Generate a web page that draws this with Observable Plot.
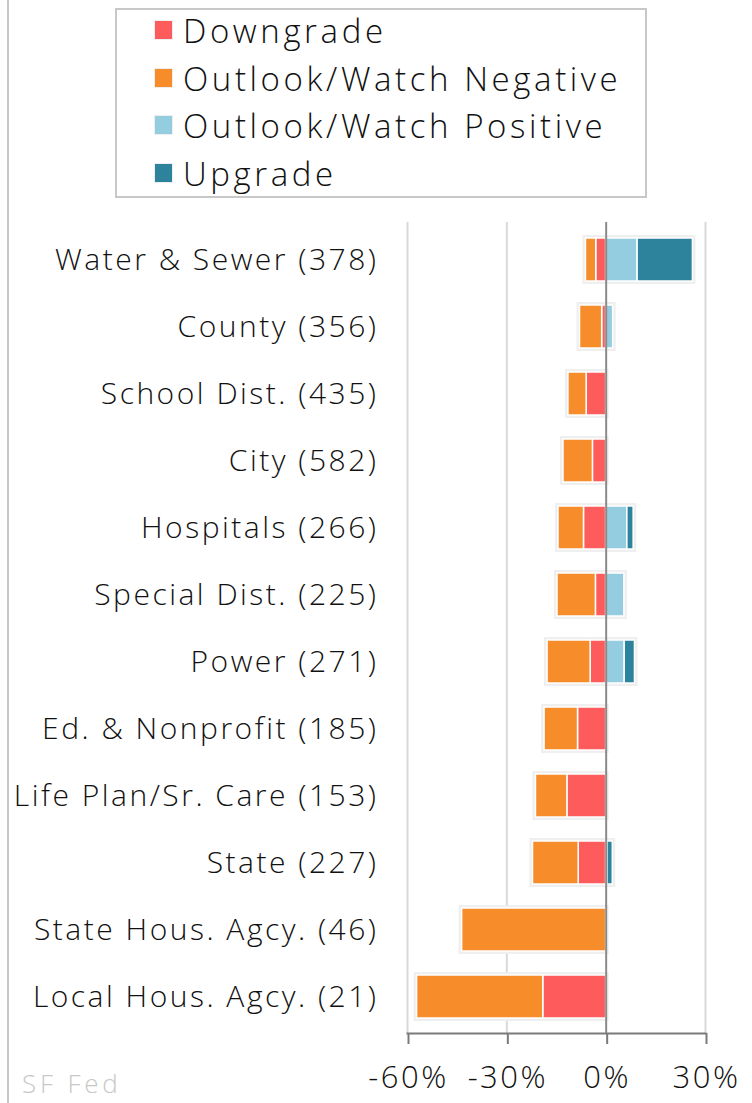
<!DOCTYPE html>
<html>
<head>
<meta charset="utf-8">
<script src="https://cdn.jsdelivr.net/npm/d3@7"></script>
<script src="https://cdn.jsdelivr.net/npm/@observablehq/plot@0.6"></script>
<style>
  html, body { margin: 0; padding: 0; background: #fff; }
  #wrap { position: relative; width: 752px; height: 1103px; overflow: hidden; font-family: "Open Sans", sans-serif; font-weight: 300; }
  #leftline { position: absolute; left: 7px; top: 0; width: 2px; height: 1103px; background: #c8c8c8; }
  #legend { position: relative; height: 205px; }
  #legbox { position: absolute; left: 115px; top: 8px; width: 528px; height: 186px; border: 2px solid #c8c8c8; }
  .item { position: absolute; left: 38px; height: 40px; display: flex; align-items: center; font-size: 33px; letter-spacing: 3.6px; color: #111; white-space: nowrap; }
  .sw { width: 17px; height: 18px; margin-right: 11px; outline: 1.5px solid #eee; flex: none; }
  #caption { position: absolute; left: 22px; top: 1070px; font-size: 26px; line-height: 26px; letter-spacing: 3.8px; color: #c8c8c8; }
  #chart svg text { font-weight: 300; letter-spacing: 2.5px; }
</style>
</head>
<body>
<div id="wrap">
  <div id="leftline"></div>
  <div id="legend"><div id="legbox"></div></div>
  <div id="chart"></div>
  <div id="caption">SF Fed</div>
</div>
<script>
const categories = ["Water & Sewer (378)", "County (356)", "School Dist. (435)", "City (582)", "Hospitals (266)", "Special Dist. (225)", "Power (271)", "Ed. & Nonprofit (185)", "Life Plan/Sr. Care (153)", "State (227)", "State Hous. Agcy. (46)", "Local Hous. Agcy. (21)"];
const seriesNames = ["Downgrade", "Outlook/Watch Negative", "Outlook/Watch Positive", "Upgrade"];
const seriesColors = ["#fe5c5c", "#f78d2a", "#94cddf", "#2c839b"];
const downgrade = [3.0, 1.2, 5.9, 4.0, 6.7, 3.1, 4.7, 8.5, 11.7, 8.3, 0, 19.0];
const watchNegative = [3.1, 6.7, 5.5, 8.9, 7.7, 11.6, 13.0, 10.1, 9.5, 13.8, 43.5, 38.1];
const watchPositive = [9.5, 2.1, 0, 0, 6.4, 5.5, 5.6, 0, 0, 0.4, 0, 0];
const upgrade = [16.7, 0, 0, 0, 1.9, 0, 3.1, 0, 0, 1.6, 0, 0];
const xTicks = [-60, -30, 0, 30];

// legend
const box = document.getElementById("legbox");
const itemTops = [0, 48, 95, 143];
seriesNames.forEach((s, i) => {
  const d = document.createElement("div");
  d.className = "item";
  d.style.top = itemTops[i] + "px";
  const sw = document.createElement("span");
  sw.className = "sw";
  sw.style.background = seriesColors[i];
  d.appendChild(sw);
  d.appendChild(document.createTextNode(s));
  box.appendChild(d);
});

const rows = [];
categories.forEach((c, i) => {
  const vals = [-downgrade[i], -watchNegative[i], watchPositive[i], upgrade[i]];
  vals.forEach((v, j) => { if (v !== 0) rows.push({cat: c, series: seriesNames[j], value: v}); });
});
const totals = categories.map((c, i) => ({cat: c, lo: -(downgrade[i] + watchNegative[i]), hi: watchPositive[i] + upgrade[i]}));

const chart = Plot.plot({
  width: 752,
  height: 898,
  marginTop: 17,
  marginBottom: 70,
  marginLeft: 407,
  marginRight: 47,
  style: {fontFamily: "'Open Sans', sans-serif", color: "#111", background: "transparent"},
  x: {domain: [-60, 30]},
  y: {domain: categories, paddingInner: 0.36, paddingOuter: 0.18},
  color: {domain: seriesNames, range: seriesColors},
  marks: [
    Plot.ruleX([-60, -30, 30], {stroke: "#d9d9d9", strokeWidth: 2}),
    Plot.barX(totals, {y: "cat", x1: "lo", x2: "hi", fill: "#ffffff", stroke: "#efefef", strokeWidth: 6}),
    Plot.barX(rows, Plot.stackX({y: "cat", x: "value", fill: "series", order: seriesNames, stroke: "#ffffff", strokeWidth: 1.5})),
    Plot.ruleX([0], {stroke: "#8a8a8a", strokeWidth: 2}),
    Plot.frame({anchor: "bottom", stroke: "#7a7a7a", strokeWidth: 2}),
    Plot.axisX({ticks: xTicks, tickFormat: d => d + "%", tickSize: 11, tickPadding: 21, stroke: "#7a7a7a", strokeWidth: 2, fontSize: 31, label: null, strokeOpacity: 1, dx: 1}),
    Plot.axisY({tickSize: 0, tickPadding: 29, fontSize: 30, label: null})
  ]
});
document.getElementById("chart").appendChild(chart);
</script>
</body>
</html>
